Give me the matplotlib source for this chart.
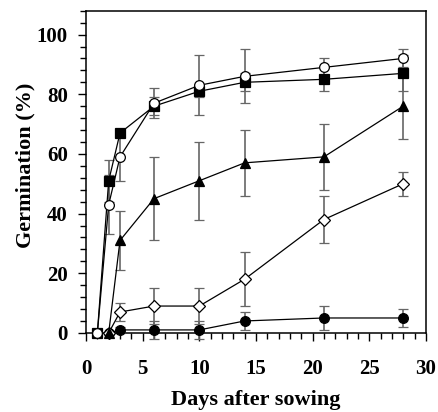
import matplotlib
matplotlib.use("Agg")
import matplotlib.pyplot as plt
from matplotlib.ticker import MultipleLocator

plt.rcParams['font.family'] = ['Liberation Serif', 'DejaVu Serif']
plt.rcParams['font.weight'] = 'bold'

# days after sowing
days_a = [1, 2, 3, 6, 10, 14, 21, 28]
days_b = [2, 3, 6, 10, 14, 21, 28]

open_circle = [0, 43, 59, 77, 83, 86, 89, 92]
open_circle_err = [0, 10, 8, 5, 10, 9, 3, 3]

filled_square = [0, 51, 67, 76, 81, 84, 85, 87]
filled_square_err = [0, 7, 0, 3, 2, 3, 4, 6]

filled_triangle = [0, 31, 45, 51, 57, 59, 76]
filled_triangle_err = [0, 10, 14, 13, 11, 11, 11]

open_diamond = [0, 7, 9, 9, 18, 38, 50]
open_diamond_err = [0, 3, 6, 6, 9, 8, 4]

filled_circle = [0, 1, 1, 1, 4, 5, 5]
filled_circle_err = [0, 1, 3, 3, 3, 4, 3]

series = [
    (days_b, filled_circle, filled_circle_err, 'o', 'black'),
    (days_b, open_diamond, open_diamond_err, 'D', 'white'),
    (days_b, filled_triangle, filled_triangle_err, '^', 'black'),
    (days_a, filled_square, filled_square_err, 's', 'black'),
    (days_a, open_circle, open_circle_err, 'o', 'white'),
]

fig = plt.figure(figsize=(4.39, 4.12), dpi=100)
ax = fig.add_axes([0.196, 0.192, 0.774, 0.782])

for x, y, err, m, fc in series:
    ms = 6 if m == 'D' else 7
    eb = ax.errorbar(x, y, yerr=err, fmt='-', color='black', lw=0.9,
                     marker=m, markersize=ms, markerfacecolor=fc,
                     markeredgecolor='black', markeredgewidth=0.9,
                     ecolor='0.4', elinewidth=1.2, capsize=3.5, capthick=1.0,
                     clip_on=False, zorder=3)
    for cap in eb[1]:
        cap.set_color('black')

ax.set_xlim(0, 30)
ax.set_ylim(0, 108)
ax.xaxis.set_major_locator(MultipleLocator(5))
ax.xaxis.set_minor_locator(MultipleLocator(1))
ax.yaxis.set_major_locator(MultipleLocator(20))
ax.yaxis.set_minor_locator(MultipleLocator(4))
ax.set_yticks([0, 20, 40, 60, 80, 100])

ax.tick_params(axis='both', which='major', direction='out', length=6, width=1,
               labelsize=15)
ax.tick_params(axis='both', which='minor', direction='out', length=4, width=1)
ax.tick_params(axis='x', which='major', pad=13)
ax.tick_params(axis='y', which='major', pad=7)
for lab in ax.get_xticklabels() + ax.get_yticklabels():
    lab.set_fontweight('bold')

for sp in ax.spines.values():
    sp.set_linewidth(1.1)

ax.set_xlabel('Days after sowing', fontsize=16, fontweight='bold', labelpad=8)
ax.set_ylabel('Germination (%)', fontsize=16, fontweight='bold', labelpad=3)
ax.yaxis.set_label_coords(-0.15, 0.52)

fig.savefig('out.png', dpi=100)
plt.close(fig)
